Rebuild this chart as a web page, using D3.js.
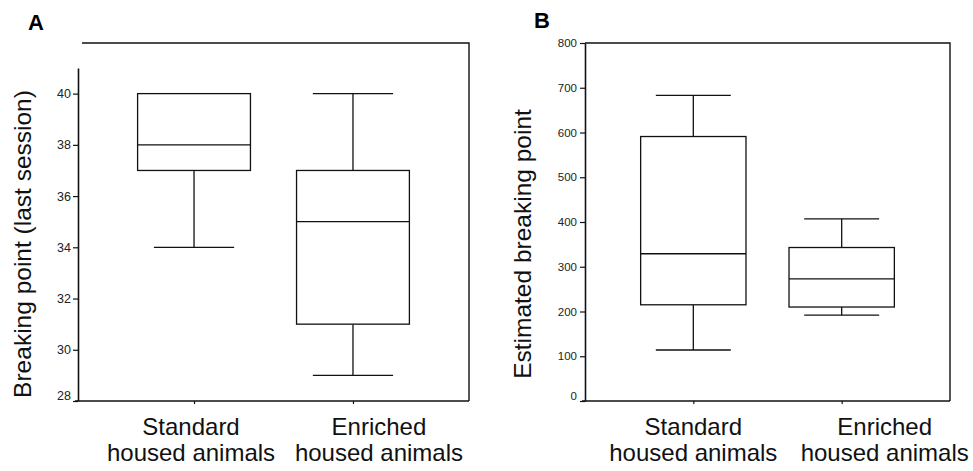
<!DOCTYPE html>
<meta charset="utf-8">
<style>
  body { margin: 0; background: #fff; }
  svg { display: block; font-family: "Liberation Sans", Arial, sans-serif; }
  .tick text { font-family: "Liberation Sans Narrow", "Arial Narrow", "Liberation Sans", sans-serif; fill: #222; }
</style>
<div id="chart"></div>
<script src="https://d3js.org/d3.v7.min.js"></script>
<script>

// groups on the x axis (each label drawn on two lines)
var groups = ["Standard housed animals", "Enriched housed animals"];
var groupLines = [["Standard", "housed animals"], ["Enriched", "housed animals"]];

// panel A: breaking point (last session)
var lowA  = [34, 29];
var q1A   = [37, 31];
var medA  = [38, 35];
var q3A   = [40, 37];
var highA = [40, 40];
var ticksA = [28, 30, 32, 34, 36, 38, 40];

// panel B: estimated breaking point
var lowB  = [114, 192];
var q1B   = [215, 210];
var medB  = [329, 273];
var q3B   = [591, 343];
var highB = [683, 407];
var ticksB = [0, 100, 200, 300, 400, 500, 600, 700, 800];

var svg = d3.select("#chart").append("svg")
    .attr("width", 973)
    .attr("height", 471);

function drawPanel(p) {
  var g = svg.append("g");

  var x = d3.scalePoint()
      .domain(groups)
      .range([p.left, p.right])
      .padding(0.73);
  var step = x.step();

  var y = d3.scaleLinear()
      .domain(p.domain)
      .range([p.bottom, p.yTop]);

  // frame: top and right lines
  g.append("path")
      .attr("d", "M" + p.frameLeft + "," + p.frameTop + "H" + p.right + "V" + p.bottom)
      .attr("fill", "none")
      .attr("stroke", "#111")
      .attr("stroke-width", 1.4);

  // y axis
  var ya = g.append("g")
      .attr("transform", "translate(" + p.left + ",0)")
      .call(d3.axisLeft(y).tickValues(p.ticks).tickSize(5).tickPadding(p.pad).tickSizeOuter(0));
  ya.select(".domain").attr("stroke", "#111").attr("stroke-width", 1.6);
  ya.selectAll(".tick line").attr("stroke", "#111").attr("stroke-width", 1.2);
  ya.selectAll(".tick text").attr("font-size", p.tickFont);
  // lowest label sits a bit above the axis
  ya.selectAll(".tick").filter(function(d) { return d === p.domain[0]; })
    .select("text").attr("dy", "-0.12em");

  // x axis
  var xa = g.append("g")
      .attr("transform", "translate(0," + p.bottom + ")")
      .call(d3.axisBottom(x).tickSize(3).tickSizeOuter(0).tickFormat(""));
  xa.select(".domain")
      .attr("d", "M" + (p.left - 3) + ",0H" + p.right)
      .attr("stroke", "#111").attr("stroke-width", 1.6);
  xa.selectAll(".tick line").attr("stroke", "#111").attr("stroke-width", 1.2);

  // category labels (second one sits a little right of its box)
  groups.forEach(function(grp, i) {
    var lx = x(grp) + p.labelShift[i];
    var t = g.append("text")
        .attr("x", lx)
        .attr("y", p.bottom + 34)
        .attr("text-anchor", "middle")
        .attr("font-size", 24)
        .attr("fill", "#111");
    groupLines[i].forEach(function(line, j) {
      t.append("tspan")
        .attr("x", lx)
        .attr("dy", j === 0 ? 0 : 26)
        .text(line);
    });
  });

  // y label
  g.append("text")
      .attr("transform", "translate(" + p.labelX + "," + ((p.frameTop + p.bottom) / 2 + 22) + ") rotate(-90)")
      .attr("text-anchor", "middle")
      .attr("font-size", p.labelFont)
      .attr("fill", "#111")
      .text(p.yLabel);

  // panel letter
  g.append("text")
      .attr("x", p.letterX)
      .attr("y", p.letterY)
      .attr("font-size", 22)
      .attr("font-weight", "bold")
      .attr("fill", "#000")
      .text(p.letter);

  // boxes
  var bw = step * 0.71, cw = step * 0.505;
  var boxes = g.append("g")
      .attr("stroke", "#111")
      .attr("stroke-width", 1.3)
      .attr("fill", "none");

  groups.forEach(function(grp, i) {
    var cx = x(grp);
    // whiskers
    boxes.append("line")
        .attr("x1", cx).attr("x2", cx)
        .attr("y1", y(p.high[i])).attr("y2", y(p.q3[i]));
    boxes.append("line")
        .attr("x1", cx).attr("x2", cx)
        .attr("y1", y(p.q1[i])).attr("y2", y(p.low[i]));
    // caps (skipped where they coincide with the box edge)
    if (p.high[i] !== p.q3[i]) {
      boxes.append("line")
          .attr("x1", cx - cw / 2).attr("x2", cx + cw / 2)
          .attr("y1", y(p.high[i])).attr("y2", y(p.high[i]));
    }
    boxes.append("line")
        .attr("x1", cx - cw / 2).attr("x2", cx + cw / 2)
        .attr("y1", y(p.low[i])).attr("y2", y(p.low[i]));
    // box
    boxes.append("rect")
        .attr("x", cx - bw / 2)
        .attr("width", bw)
        .attr("y", y(p.q3[i]))
        .attr("height", y(p.q1[i]) - y(p.q3[i]))
        .attr("fill", "#fff");
    boxes.append("line")
        .attr("x1", cx - bw / 2).attr("x2", cx + bw / 2)
        .attr("y1", y(p.med[i])).attr("y2", y(p.med[i]));
  });
}

drawPanel({
  left: 78, right: 469, bottom: 401, yTop: 68, frameTop: 43, frameLeft: 82,
  domain: [28, 41], ticks: ticksA, pad: 2, tickFont: 12.5,
  low: lowA, q1: q1A, med: medA, q3: q3A, high: highA,
  labelShift: [-3, 26],
  yLabel: "Breaking point (last session)", labelX: 31, labelFont: 24.5,
  letter: "A", letterX: 28, letterY: 30
});

drawPanel({
  left: 585, right: 950, bottom: 401, yTop: 43, frameTop: 43, frameLeft: 585,
  domain: [0, 800], ticks: ticksB, pad: 3, tickFont: 11.5,
  low: lowB, q1: q1B, med: medB, q3: q3B, high: highB,
  labelShift: [0, 43],
  yLabel: "Estimated breaking point", labelX: 531, labelFont: 24.5,
  letter: "B", letterX: 534, letterY: 28
});

</script>
